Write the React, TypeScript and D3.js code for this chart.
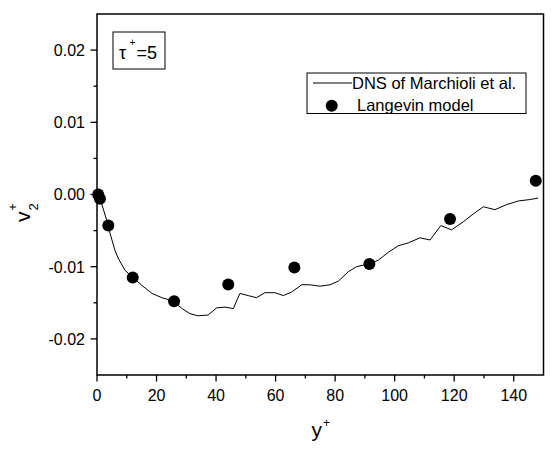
import React from "react";
import * as d3 from "d3";

const dnsY = [0, 1.0, 3.8, 4.4, 6.0, 7.1, 9.4, 12.1, 15.1, 18.5, 21.8, 25.2, 28.6, 31.2, 33.9, 37.3, 40.2, 43.0, 45.8, 48.0, 50.8, 53.6, 56.4, 59.8, 62.6, 65.4, 68.8, 71.5, 74.9, 78.3, 81.1, 84.4, 87.2, 91.5, 94.5, 97.9, 101.2, 104.6, 108.5, 111.9, 115.5, 119.1, 123.0, 126.4, 129.8, 133.7, 137.6, 141.5, 145.4, 148.2];
const dnsV = [0, -0.0005, -0.0043, -0.0054, -0.0077, -0.0088, -0.0105, -0.0115, -0.0126, -0.0137, -0.0143, -0.0147, -0.0158, -0.0165, -0.0168, -0.0167, -0.0157, -0.0156, -0.0158, -0.0137, -0.0140, -0.0143, -0.0136, -0.0136, -0.0140, -0.0135, -0.0125, -0.0125, -0.0127, -0.0125, -0.0120, -0.0107, -0.0100, -0.0096, -0.0091, -0.0080, -0.0071, -0.0067, -0.0060, -0.0063, -0.0043, -0.0049, -0.0038, -0.0027, -0.0017, -0.0021, -0.0014, -0.0009, -0.0007, -0.0005];

const langY = [0.4, 1.0, 3.8, 12.0, 25.9, 44.1, 66.3, 91.5, 118.6, 147.4];
const langV = [0.0, -0.0006, -0.0043, -0.0115, -0.0148, -0.01245, -0.0101, -0.00964, -0.0034, 0.0019];

const xMajor = [0, 20, 40, 60, 80, 100, 120, 140];
const xMinor = [10, 30, 50, 70, 90, 110, 130];
const yMajor = [-0.02, -0.01, 0.0, 0.01, 0.02];
const yMinor = [-0.015, -0.005, 0.005, 0.015];

const FONT = "'Liberation Sans', Arial, sans-serif";

export default function App() {
  const left = 97, right = 543.5, top = 14, bottom = 375;
  const x = d3.scaleLinear().domain([0, 150]).range([left, right]);
  const y = d3.scaleLinear().domain([-0.025, 0.025]).range([bottom, top]);
  const line = d3.line<number>().x((d, i) => x(dnsY[i])).y((d) => y(d));
  const fmt = (t: number) => d3.format(".2f")(t).replace("\u2212", "-").replace("-0.00", "0.00");

  return (
    <svg width={556} height={450} style={{ position: "absolute", left: 0, top: 0, background: "#fff" }} fontFamily={FONT}>
      <rect x={0} y={0} width={556} height={450} fill="#fff" />
      {/* frame */}
      <rect x={left} y={top} width={right - left} height={bottom - top} fill="none" stroke="#000" strokeWidth={1.5} />
      {/* x ticks */}
      {xMajor.map((t) => (
        <g key={"xm" + t}>
          <line x1={x(t)} x2={x(t)} y1={bottom} y2={bottom + 6.5} stroke="#000" strokeWidth={1.3} />
          <text x={x(t)} y={401} textAnchor="middle" fontSize={16}>{t}</text>
        </g>
      ))}
      {xMinor.map((t) => (
        <line key={"xn" + t} x1={x(t)} x2={x(t)} y1={bottom} y2={bottom + 3.5} stroke="#000" strokeWidth={1.3} />
      ))}
      {/* y ticks */}
      {yMajor.map((t) => (
        <g key={"ym" + t}>
          <line x1={left - 6.5} x2={left} y1={y(t)} y2={y(t)} stroke="#000" strokeWidth={1.3} />
          <text x={85} y={y(t) + 5.8} textAnchor="end" fontSize={16}>{fmt(t)}</text>
        </g>
      ))}
      {yMinor.map((t) => (
        <line key={"yn" + t} x1={left - 3.5} x2={left} y1={y(t)} y2={y(t)} stroke="#000" strokeWidth={1.3} />
      ))}
      {/* DNS line */}
      <path d={line(dnsV) || ""} fill="none" stroke="#000" strokeWidth={1} />
      {/* Langevin markers */}
      {langV.map((v, i) => (
        <circle key={"p" + i} cx={x(langY[i])} cy={y(v)} r={6} fill="#000" />
      ))}
      {/* axis titles */}
      <text x={311.5} y={437} fontSize={21}>y</text>
      <text x={323} y={427} fontSize={12}>+</text>
      <g transform="translate(30,222) rotate(-90)">
        <text x={0} y={0} fontSize={21}>v</text>
        <text x={11.5} y={8} fontSize={13}>2</text>
        <text x={11.5} y={-13} fontSize={12}>+</text>
      </g>
      {/* tau label box */}
      <rect x={113} y={32} width={52} height={37} fill="#fff" stroke="#000" strokeWidth={1} />
      <text x={119} y={59} fontSize={18}>τ</text>
      <text x={129.5} y={46} fontSize={10}>+</text>
      <text x={136.5} y={59} fontSize={18}>=5</text>
      {/* legend */}
      <rect x={307} y={73} width={219} height={40.5} fill="#fff" stroke="#000" strokeWidth={1} />
      <line x1={313} x2={352} y1={83} y2={83} stroke="#000" strokeWidth={1} />
      <text x={352} y={88.5} fontSize={16.5}>DNS of Marchioli et al.</text>
      <circle cx={331.7} cy={105.7} r={6} fill="#000" />
      <text x={357} y={111} fontSize={16.5}>Langevin model</text>
    </svg>
  );
}
